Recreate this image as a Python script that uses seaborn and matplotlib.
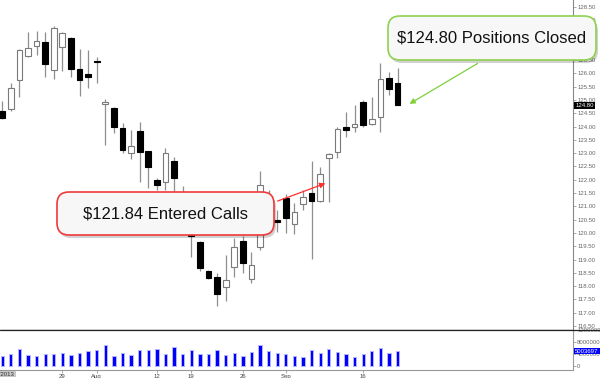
import numpy as np
import pandas as pd
import matplotlib
matplotlib.use("Agg")
import matplotlib.pyplot as plt
import matplotlib.transforms as mtransforms
from matplotlib.patches import FancyBboxPatch
import seaborn as sns

# daily OHLC (bar 0 = first visible session)
opens = [124.58, 124.66, 125.75, 126.65, 127.03, 127.18, 126.12, 126.99, 127.33, 126.16,
         125.97, 126.45, 124.85, 124.70, 123.94, 123.00, 123.83, 123.08, 121.99, 121.91,
         122.70, 121.40, 121.00, 119.66, 118.57, 118.34, 117.97, 118.72, 119.70, 118.27,
         119.47, 121.30, 120.49, 121.31, 120.33, 121.09, 121.50, 121.20, 122.82, 123.04,
         123.98, 123.98, 124.92, 124.09, 124.36, 125.82, 125.64]
highs = [124.96, 125.64, 126.92, 127.55, 127.59, 127.55, 127.78, 127.55, 127.36, 126.91,
         126.88, 126.61, 125.03, 124.72, 124.13, 123.87, 124.17, 123.10, 122.06, 123.19,
         122.85, 121.75, 121.30, 119.70, 118.60, 118.49, 119.17, 119.81, 119.90, 119.30,
         122.33, 121.60, 120.86, 121.46, 121.12, 121.61, 122.70, 122.48, 123.00, 123.98,
         124.55, 124.81, 125.00, 125.11, 126.39, 126.05, 126.20]
lows = [124.28, 124.58, 125.11, 126.61, 126.69, 125.86, 125.79, 126.09, 125.86, 125.15,
        125.45, 125.64, 123.30, 123.76, 123.00, 122.78, 121.91, 121.69, 121.60, 121.60,
        121.50, 120.70, 119.09, 118.55, 118.27, 117.25, 117.44, 118.34, 118.49, 118.12,
        119.36, 120.50, 120.03, 120.00, 119.96, 120.86, 119.02, 121.16, 121.16, 122.82,
        123.61, 123.79, 123.98, 124.06, 123.79, 125.18, 124.80]
closes = [124.32, 125.45, 126.88, 126.95, 127.21, 126.35, 127.70, 127.51, 126.16, 125.75,
          125.86, 126.41, 124.92, 123.98, 123.12, 123.27, 123.04, 122.48, 121.80, 123.00,
          122.06, 120.95, 119.88, 118.68, 118.30, 117.70, 118.23, 119.47, 118.87, 118.79,
          121.80, 120.80, 120.41, 120.56, 120.79, 121.35, 121.20, 122.21, 122.97, 123.91,
          123.87, 124.09, 124.06, 124.28, 125.79, 125.41, 124.80]
volumes = [3.44, 3.98, 5.59, 3.76, 3.44, 3.98, 3.98, 4.41, 3.66, 4.30,
           4.95, 5.38, 6.99, 3.33, 4.30, 3.55, 5.27, 5.27, 5.70, 4.09,
           6.45, 3.87, 5.27, 3.98, 4.09, 5.27, 3.76, 4.30, 3.44, 4.73,
           7.10, 5.16, 4.41, 3.98, 3.44, 3.12, 5.27, 4.19, 5.59, 4.73,
           4.09, 2.90, 4.09, 5.05, 6.02, 4.19, 5.003697]  # millions

date_ticks = [7, 11, 18, 22, 28, 33, 42]
date_labels = ["29", "Aug", "12", "19", "26", "Sep", "16"]
price_ticks = [116.5, 117.0, 117.5, 118.0, 118.5, 119.0, 119.5, 120.0, 120.5, 121.0,
               121.5, 122.0, 122.5, 123.0, 123.5, 124.0, 124.5, 125.0, 125.5, 126.0,
               126.5, 127.0, 127.5, 128.0, 128.5]
vol_ticks = [0, 4000000, 8000000, 12000000]
vol_labels = ["0", "4000000", "8000000", "12000000"]
last_price = 124.80
last_volume = 5003697
entry_text = "$121.84 Entered Calls"
exit_text = "$124.80 Positions Closed"

df = pd.DataFrame({"open": opens, "high": highs, "low": lows, "close": closes,
                   "volume": np.array(volumes) * 1e6})
df["idx"] = np.arange(len(df))
df["up"] = df["close"] >= df["open"]
df["body_lo"] = df[["open", "close"]].min(axis=1)
df["body_h"] = np.maximum((df["close"] - df["open"]).abs(), 0.05)

sns.set_style("white")
plt.rcParams["font.family"] = ["Liberation Sans", "DejaVu Sans"]

fig = plt.figure(figsize=(6, 3.78), dpi=100)
ax = fig.add_axes([0, 1 - 330 / 378, 573 / 600, 330 / 378])
axv = fig.add_axes([0, 1 - 370 / 378, 573 / 600, 40 / 378])

# candles
ax.vlines(df["idx"], df["low"], df["high"], color="#8f8f8f", lw=0.9, zorder=1)
ax.bar(df["idx"], df["body_h"], bottom=df["body_lo"], width=0.66,
       color=np.where(df["up"], "white", "black"),
       edgecolor=np.where(df["up"], "#7a7a7a", "black"), linewidth=0.8, zorder=2)
ax.set_xlim(-0.25, 66.4)
ax.set_ylim(116.35, 128.76)
ax.set_xticks([])
ax.yaxis.tick_right()
ax.set_yticks(price_ticks)
ax.set_yticklabels([f"{t:.2f}" for t in price_ticks])
ax.tick_params(axis="y", labelsize=4.3, labelcolor="#666666", color="#888888",
               length=2, width=0.5, pad=1, right=True)
for s in ["top", "left"]:
    ax.spines[s].set_visible(False)
ax.spines["right"].set_color("#888888")
ax.spines["right"].set_linewidth(0.8)
ax.spines["bottom"].set_color("#222222")
ax.spines["bottom"].set_linewidth(0.9)

blend = mtransforms.blended_transform_factory(ax.transAxes, ax.transData)
ax.text(1.004, last_price, f"{last_price:.2f}", transform=blend, fontsize=4.3,
        color="white", va="center", ha="left",
        bbox=dict(boxstyle="square,pad=0.15", fc="black", ec="none"))

# volume
sns.barplot(data=df, x="idx", y="volume", native_scale=True, width=0.38,
            color="#0000ff", saturation=1, edgecolor="#b4b4ff", linewidth=0.7,
            errorbar=None, ax=axv)
axv.set_xlim(-0.25, 66.4)
axv.set_ylim(-1.3e6, 12.0e6)
axv.set_xlabel("")
axv.set_ylabel("")
axv.yaxis.tick_right()
axv.set_yticks(vol_ticks)
axv.set_yticklabels(vol_labels)
axv.set_xticks(date_ticks)
axv.set_xticklabels(date_labels)
axv.tick_params(axis="y", labelsize=4.3, labelcolor="#666666", color="#888888",
                length=2, width=0.5, pad=1, right=True)
axv.tick_params(axis="x", labelsize=4.3, labelcolor="#444444", color="#888888",
                length=2, width=0.5, pad=1, bottom=True)
for s in ["top", "left"]:
    axv.spines[s].set_visible(False)
for s in ["right", "bottom"]:
    axv.spines[s].set_color("#999999")
    axv.spines[s].set_linewidth(0.8)
vblend = mtransforms.blended_transform_factory(axv.transAxes, axv.transData)
axv.text(1.004, last_volume, str(last_volume), transform=vblend, fontsize=4.3,
         color="white", va="center", ha="left",
         bbox=dict(boxstyle="square,pad=0.15", fc="#0000ff", ec="none"))

# divider line across the whole width
fig.add_artist(plt.Line2D([0, 1], [1 - 330 / 378, 1 - 330 / 378], color="#222222", lw=0.9))

# date box bottom-left
fig.text(15 / 600, 1 - 374 / 378, "7/18/2013", fontsize=4.3, color="#333333",
         ha="right", va="center", bbox=dict(boxstyle="square,pad=0.15", fc="#c8c8c8", ec="none"))

# callouts (pixel coordinates, origin bottom-left)
px = mtransforms.Affine2D().scale(1 / 100) + fig.dpi_scale_trans


def callout(x0, y_top, w, h, edge, text):
    y0 = 378 - y_top - h
    shadow = FancyBboxPatch((x0 + 2, y0 - 3), w, h, boxstyle="round,pad=0,rounding_size=12",
                            fc="#000000", ec="none", alpha=0.18, transform=px, zorder=5)
    box = FancyBboxPatch((x0, y0), w, h, boxstyle="round,pad=0,rounding_size=12",
                         fc="#f7f7f7", ec=edge, lw=1.2, transform=px, zorder=6)
    fig.add_artist(shadow)
    fig.add_artist(box)
    fig.text((x0 + w / 2) / 600, (y0 + h / 2) / 378, text, fontsize=12, color="#111111",
             ha="center", va="center", zorder=7)


ax.annotate("", xy=(37.9, 121.9), xytext=(275 / 600, 1 - 202 / 378), textcoords="figure fraction",
            arrowprops=dict(arrowstyle="-|>", color="#ff3030", lw=0.9, mutation_scale=8),
            annotation_clip=False, zorder=4)
ax.annotate("", xy=(47.1, 124.8), xytext=(480 / 600, 1 - 62 / 378), textcoords="figure fraction",
            arrowprops=dict(arrowstyle="-|>", color="#7fcf3a", lw=0.9, mutation_scale=8),
            annotation_clip=False, zorder=4)

callout(57, 192, 217, 43, "#ee3a3a", entry_text)
callout(388, 16, 208, 44, "#8fd14f", exit_text)

fig.savefig("out.png", dpi=100)
